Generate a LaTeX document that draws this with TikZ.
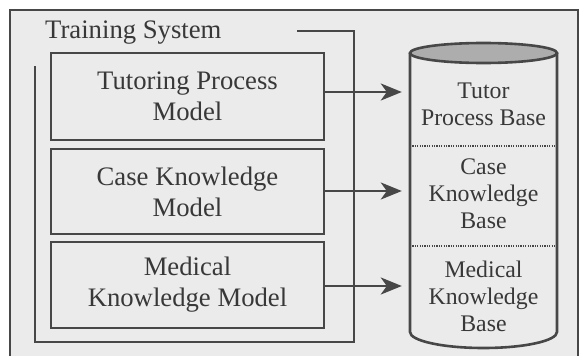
\documentclass[tikz,border=0pt]{standalone}
\usepackage{fontspec}
\setmainfont{Liberation Serif}
\usetikzlibrary{arrows.meta}

\begin{document}
\begin{tikzpicture}
[x=1pt,y=-1pt,
  linedecorate/.style={draw=black!72,line width=2.6pt},%
  modeldecorate/.style={draw=black!72,line width=2.6pt,minimum width=273pt,
    inner sep=0pt,align=center,text=black!78,font=\fontsize{26.7}{31}\selectfont},%
  basedecorate/.style={minimum width=147pt,inner sep=0pt,align=center,
    text=black!78,font=\fontsize{23.8}{27}\selectfont},%
  arrowdecorate/.style={draw=black!72,line width=2.6pt,shorten >=8pt,
    -{Stealth[length=21pt,width=17pt,inset=6pt]}},%
  dividerdecorate/.style={draw=black!72,line width=1.2pt,dash pattern=on 1.2pt off 1.2pt}]
%%
%% Page and outer frame
\useasboundingbox (0,0) rectangle (581,356);
\fill[white] (0,0) rectangle (581,356);
\fill[black!8] (10,10) rectangle (578,356);
\draw[linedecorate] (10,356) -- (10,10) -- (578,10) -- (578,356);
%%
%% Training system with its three models
\node (trainingsystem) at (45,38) [anchor=base west,inner sep=0pt,text=black!78,
  font=\fontsize{26.7}{31}\selectfont] {Training System};
\draw[linedecorate] (35,66) -- (35,342) -- (354,342) -- (354,31) -- (297,31);
\foreach \nodename/\y/\h/\label in {
  tutoring/96.5/87/{Tutoring Process\\Model},
  casemodel/191.5/85/{Case Knowledge\\Model},
  medicalmodel/285/86/{Medical\\Knowledge Model}}
{
  \node (\nodename) at (187.5,\y) [modeldecorate,minimum height=\h pt] {\label};
}
%%
%% Database cylinder
\draw[linedecorate] (410,53) -- (410,332)
  arc[start angle=180,end angle=0,x radius=73.5,y radius=16] -- (557,53);
\draw[linedecorate,fill=black!32] (483.5,53) ellipse[x radius=73.5,y radius=10];
\draw[dividerdecorate] (410,146) -- (557,146);
\draw[dividerdecorate] (410,246) -- (557,246);
\foreach \nodename/\y/\label in {
  tutorbase/104/{Tutor\\Process Base},
  casebase/194/{Case\\Knowledge\\Base},
  medicalbase/296/{Medical\\Knowledge\\Base}}
{
  \node (\nodename) at (483.5,\y) [basedecorate] {\label};
}
%%
%% Arrows from models to bases
\foreach \startnode/\endnode/\shift in {
  tutoring/tutorbase/4.5, casemodel/casebase/0.5, medicalmodel/medicalbase/-1}
{
  \draw[arrowdecorate] ([yshift=\shift pt]\startnode.east)
    -- ([yshift=\shift pt]\startnode.east -| \endnode.west);
}
\end{tikzpicture}
\end{document}
